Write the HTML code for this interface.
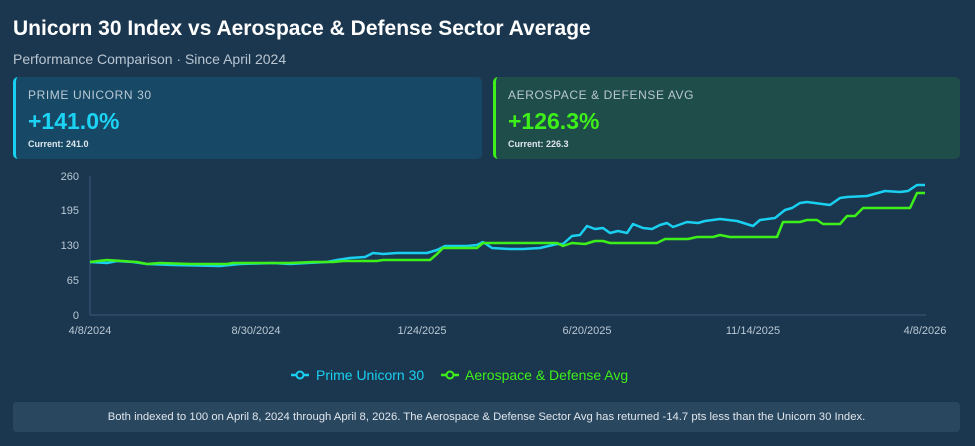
<!DOCTYPE html>
<html><head><meta charset="utf-8"><style>
body{margin:0;width:975px;height:446px;background:#1b374f;font-family:"Liberation Sans",sans-serif;overflow:hidden;position:relative;color:#fff}
.t{position:absolute;left:13px;top:17px;font-size:21px;font-weight:bold}
.s{position:absolute;left:13px;top:51px;font-size:14px;color:#b9c6d2}
.card{position:absolute;top:77px;height:82px;border-radius:5px;box-sizing:border-box;padding-left:12px}
.card .l{margin-top:11px;font-size:12px;letter-spacing:.6px;color:#b9c8d4}
.card .v{margin-top:6px;font-size:23px;font-weight:bold}
.card .c{margin-top:4px;font-size:9px;font-weight:bold;color:#dfe6ec}
.foot{position:absolute;left:13px;top:402px;width:947px;height:30px;background:#2a4760;border-radius:4px;font-size:11.3px;color:#dfe6ec;text-align:center;line-height:30px}
</style></head><body>
<div class="t">Unicorn 30 Index vs Aerospace &amp; Defense Sector Average</div>
<div class="s">Performance Comparison · Since April 2024</div>
<div class="card" style="left:13px;width:469px;background:#174966;border-left:3px solid #1ad0f0"><div class="l">PRIME UNICORN 30</div><div class="v" style="color:#1cd3f5">+141.0%</div><div class="c">Current: 241.0</div></div>
<div class="card" style="left:493px;width:467px;background:#1f4d4a;border-left:3px solid #3ef01a"><div class="l">AEROSPACE &amp; DEFENSE AVG</div><div class="v" style="color:#3ef01a">+126.3%</div><div class="c">Current: 226.3</div></div>
<svg width="975" height="446" style="position:absolute;left:0;top:0" font-family="Liberation Sans, sans-serif" font-size="11" fill="#b9c8d4">
<line x1="90" y1="176" x2="90" y2="315" stroke="#3a5a78"/>
<line x1="90" y1="315" x2="926" y2="315" stroke="#3a5a78"/>
<g text-anchor="end"><text x="79" y="180">260</text><text x="79" y="214">195</text><text x="79" y="249">130</text><text x="79" y="284">65</text><text x="79" y="319">0</text></g>
<g text-anchor="middle"><text x="90" y="334">4/8/2024</text><text x="256" y="334">8/30/2024</text><text x="422" y="334">1/24/2025</text><text x="587" y="334">6/20/2025</text><text x="753" y="334">11/14/2025</text><text x="925" y="334">4/8/2026</text></g>
<polyline fill="none" stroke="#1ad0f0" stroke-width="2.5" stroke-linejoin="round" points="90,262 107,263 117,261 133,262 140,263 147,264 173,265 220,266 240,264 273,263 290,264 307,263 327,262 337,260 350,258 365,257 373,253 383,254 397,253 427,253 437,250 445,246 467,246 477,245 483,242 492,248 510,249 523,249 540,248 557,244 563,244 572,236 580,235 587,226 595,229 603,228 610,233 618,231 627,233 633,224 643,228 652,229 660,225 667,223 673,227 687,222 698,223 705,221 720,219 737,221 753,226 760,220 775,218 785,210 792,208 800,203 807,202 830,205 840,198 847,197 867,196 885,191 900,192 908,191 917,185 925,185"/>
<polyline fill="none" stroke="#3ef01a" stroke-width="2.5" stroke-linejoin="round" points="90,262 107,260 137,262 147,264 160,263 190,264 227,264 233,263 290,263 313,262 333,262 343,261 377,261 383,260 430,260 437,254 443,248 477,248 483,243 557,243 563,246 572,243 585,244 595,241 603,241 610,243 657,243 665,239 688,239 697,237 713,237 720,235 730,237 777,237 783,222 800,222 807,220 817,220 823,224 840,224 847,216 855,216 863,208 910,208 917,193 925,193"/>
<g font-size="14">
<line x1="291" y1="375" x2="309" y2="375" stroke="#1ad0f0" stroke-width="2.5"/><circle cx="300" cy="375" r="3.5" fill="#1b374f" stroke="#1ad0f0" stroke-width="2"/>
<text x="316" y="380" fill="#1ad0f0">Prime Unicorn 30</text>
<line x1="441" y1="375" x2="459" y2="375" stroke="#3ef01a" stroke-width="2.5"/><circle cx="450" cy="375" r="3.5" fill="#1b374f" stroke="#3ef01a" stroke-width="2"/>
<text x="465" y="380" fill="#3ef01a">Aerospace &amp; Defense Avg</text></g>
</svg>
<div class="foot">Both indexed to 100 on April 8, 2024 through April 8, 2026. The Aerospace &amp; Defense Sector Avg has returned -14.7 pts less than the Unicorn 30 Index.</div>
</body></html>
